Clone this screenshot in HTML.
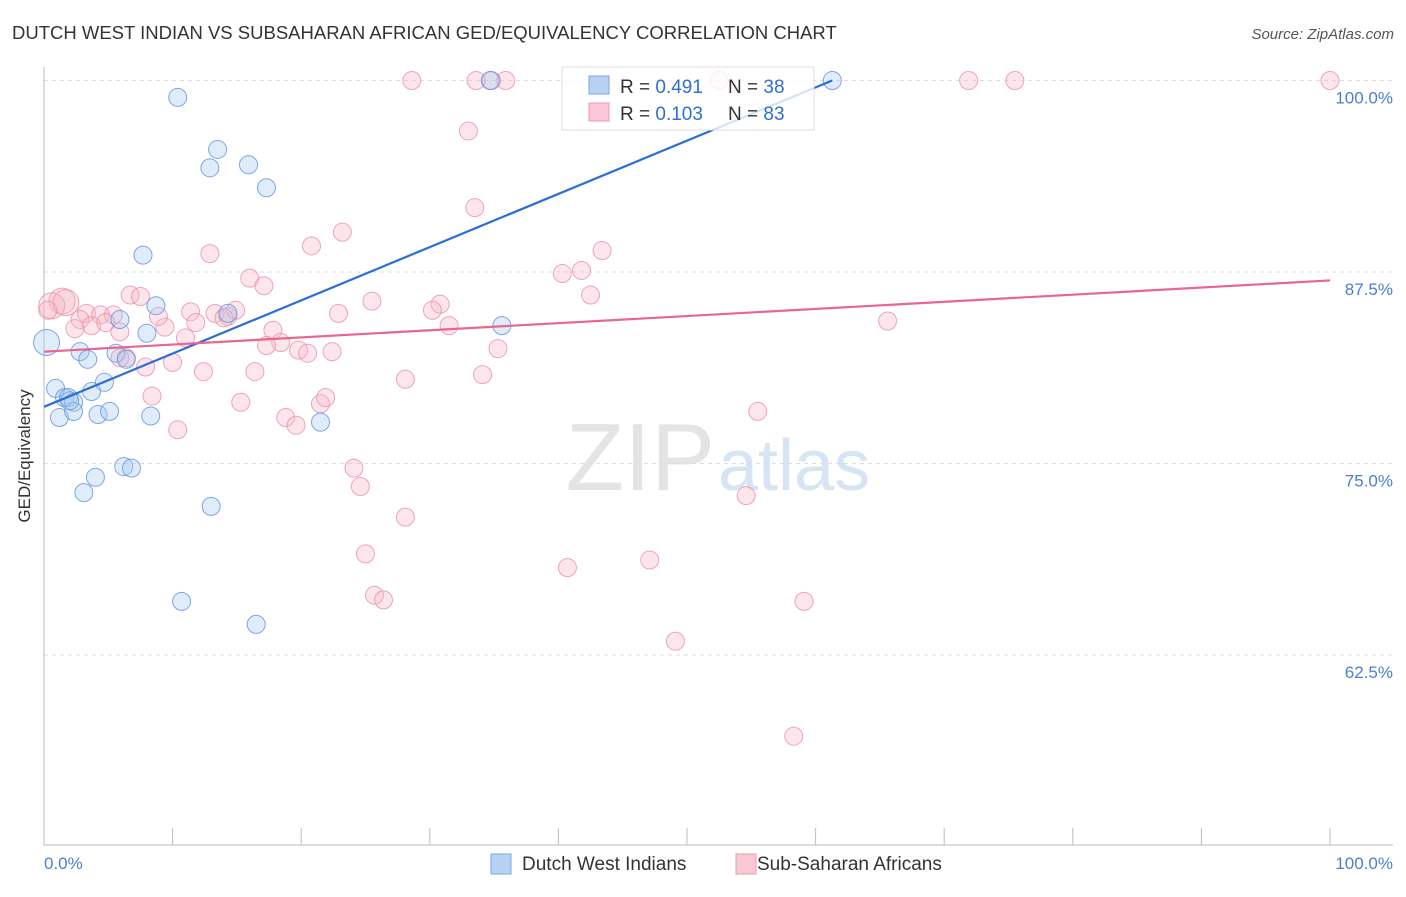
<!DOCTYPE html>
<html><head><meta charset="utf-8"><style>
body{margin:0;background:#fff;font-family:"Liberation Sans",sans-serif}
svg text{font-family:"Liberation Sans",sans-serif}
</style></head><body>
<svg id="c" width="1406" height="892" xmlns="http://www.w3.org/2000/svg">
<text x="12" y="39" font-size="18.5" fill="#333">DUTCH WEST INDIAN VS SUBSAHARAN AFRICAN GED/EQUIVALENCY CORRELATION CHART</text>
<text x="1394" y="39" font-size="15" fill="#555" font-style="italic" text-anchor="end">Source: ZipAtlas.com</text>
<text x="715" y="490" font-size="96" fill="#e4e4e4" font-family="Liberation Serif" text-anchor="end">ZIP</text>
<text x="718" y="490" font-size="72" fill="#d6e4f4">atlas</text>
<g id="grid"></g>
<line x1="44" y1="67" x2="44" y2="845" stroke="#bbb"/>
<line x1="44" y1="845" x2="1393" y2="845" stroke="#bbb"/>
<text x="30" y="456" font-size="17" fill="#333" text-anchor="middle" transform="rotate(-90 30 456)">GED/Equivalency</text>
<text x="44" y="869" font-size="17" fill="#4a7fd0">0.0%</text>
<text x="1393" y="869" font-size="17" fill="#4a7fd0" text-anchor="end">100.0%</text>
<g id="pts"></g>
<g id="lines"></g>
<g>
<rect x="562" y="67" width="252" height="63" fill="#fff" fill-opacity="0.8" stroke="#ddd"/>
<rect x="589" y="76" width="20" height="18" fill="#b8d1f3" stroke="#7aa6e0"/>
<text x="620" y="93" font-size="19" fill="#333">R = <tspan fill="#2f6fd0">0.491</tspan></text>
<text x="728" y="93" font-size="19" fill="#333">N = <tspan fill="#2f6fd0">38</tspan></text>
<rect x="589" y="103" width="20" height="18" fill="#f9c7d5" stroke="#eb9ab1"/>
<text x="620" y="120" font-size="19" fill="#333">R = <tspan fill="#2f6fd0">0.103</tspan></text>
<text x="728" y="120" font-size="19" fill="#333">N = <tspan fill="#2f6fd0">83</tspan></text>
</g>
<g>
<rect x="491" y="854" width="20" height="20" fill="#b8d1f3" stroke="#7aa6e0"/>
<text x="522" y="870" font-size="19" fill="#333">Dutch West Indians</text>
<rect x="736" y="854" width="20" height="20" fill="#f9c7d5" stroke="#eb9ab1"/>
<text x="757" y="870" font-size="19" fill="#333">Sub-Saharan Africans</text>
</g>
</svg>
<script>
const yTicks=[100,87.5,75,62.5];
const yTickLabels=["100.0%","87.5%","75.0%","62.5%"];
const xTicks=[0,10,20,30,40,50,60,70,80,90,100];
const blueX=[10.4,34.7,61.3,13.5,12.9,15.9,17.3,7.7,8.7,8.0,5.9,14.3,0.2,2.8,3.4,5.6,6.4,0.9,1.6,1.9,2.3,1.2,2.3,4.2,5.1,3.7,4.7,8.3,21.5,35.6,6.2,6.8,4.0,3.1,13.0,10.7,16.5,2.0];
const blueY=[98.9,100,100,95.5,94.3,94.5,93.0,88.6,85.3,83.5,84.4,84.8,82.9,82.3,81.8,82.2,81.8,79.9,79.3,79.3,79.0,78.0,78.4,78.2,78.4,79.7,80.3,78.1,77.7,84.0,74.8,74.7,74.1,73.1,72.2,66.0,64.5,79.1];
const pinkX=[28.6,33.6,35.9,52.5,71.9,75.5,100,34.8,33.0,33.5,23.2,20.8,12.9,43.4,40.3,41.8,16.0,17.1,42.5,25.5,30.8,30.2,31.5,6.7,7.5,1.4,0.6,1.7,0.3,3.3,4.4,5.4,2.8,3.7,4.8,5.9,2.4,9.4,8.9,11.4,11.8,13.3,14.3,14.9,14.0,11.0,17.8,18.4,17.3,19.8,20.5,22.4,22.9,10.0,7.9,6.4,12.4,16.4,35.3,28.1,34.1,8.4,15.3,21.5,21.9,18.8,19.6,10.4,24.1,24.6,28.1,25.0,54.6,55.5,65.6,40.7,47.1,25.7,26.4,59.1,49.1,58.3,5.9];
const pinkY=[100,100,100,100,100,100,100,100,96.7,91.7,90.1,89.2,88.7,88.9,87.4,87.6,87.1,86.6,86.0,85.6,85.4,85.0,84.0,86.0,85.9,85.6,85.3,85.5,85.0,84.8,84.7,84.7,84.4,84.0,84.2,83.6,83.8,83.9,84.6,84.9,84.2,84.8,84.6,85.0,84.5,83.2,83.7,82.9,82.7,82.4,82.2,82.3,84.8,81.6,81.3,81.9,81.0,81.0,82.5,80.5,80.8,79.4,79.0,78.9,79.3,78.0,77.5,77.2,74.7,73.5,71.5,69.1,72.9,78.4,84.3,68.2,68.7,66.4,66.1,66.0,63.4,57.2,81.9];
const blueTrend=[[0,78.7],[61.3,100]];
const pinkTrend=[[0,82.3],[100,86.95]];
const NS="http://www.w3.org/2000/svg";
const xs=v=>44+v*12.86, ys=v=>80.5+(100-v)*15.32;
const grid=document.getElementById('grid');
yTicks.forEach((t,i)=>{
 const l=document.createElementNS(NS,'line');
 l.setAttribute('x1',44);l.setAttribute('x2',1393);l.setAttribute('y1',ys(t));l.setAttribute('y2',ys(t));
 l.setAttribute('stroke','#ddd');l.setAttribute('stroke-dasharray','4,4');
 
 
 grid.appendChild(l);
 const tx=document.createElementNS(NS,'text');
 tx.setAttribute('x',1393);tx.setAttribute('y',ys(t)+23);tx.setAttribute('text-anchor','end');
 tx.setAttribute('font-size','17');tx.setAttribute('fill','#4a7fd0');tx.textContent=yTickLabels[i];
 
 
 grid.appendChild(tx);
});
xTicks.forEach(t=>{
 const l=document.createElementNS(NS,'line');
 l.setAttribute('x1',xs(t));l.setAttribute('x2',xs(t));l.setAttribute('y1',828);l.setAttribute('y2',845);l.setAttribute('stroke','#bbb');
 
 
 grid.appendChild(l);
});
const pts=document.getElementById('pts');
function dot(x,y,r,f,s,name){
 const c=document.createElementNS(NS,'circle');
 c.setAttribute('cx',xs(x));c.setAttribute('cy',ys(y));c.setAttribute('r',r);
 c.setAttribute('fill',f);c.setAttribute('stroke',s);c.setAttribute('fill-opacity','0.35');c.setAttribute('stroke-opacity','0.8');
 
 
 pts.appendChild(c);
}
pinkX.forEach((x,i)=>dot(x,pinkY[i],(x<2&&pinkY[i]>85)?13:9,'#f7b6c9','#ea8fab','point-subsaharan'));
blueX.forEach((x,i)=>dot(x,blueY[i],x<0.5?13:9,'#a9c8f0','#5c93dc','point-dutch-west-indian'));
const lines=document.getElementById('lines');
function tl(p,col,name){
 const l=document.createElementNS(NS,'line');
 l.setAttribute('x1',xs(p[0][0]));l.setAttribute('y1',ys(p[0][1]));l.setAttribute('x2',xs(p[1][0]));l.setAttribute('y2',ys(p[1][1]));
 l.setAttribute('stroke',col);l.setAttribute('stroke-width','2.2');
 
 
 lines.appendChild(l);
}
tl(blueTrend,'#2a6fd6','trend-line-dutch');
tl(pinkTrend,'#e8668f','trend-line-african');
</script>
</body></html>
